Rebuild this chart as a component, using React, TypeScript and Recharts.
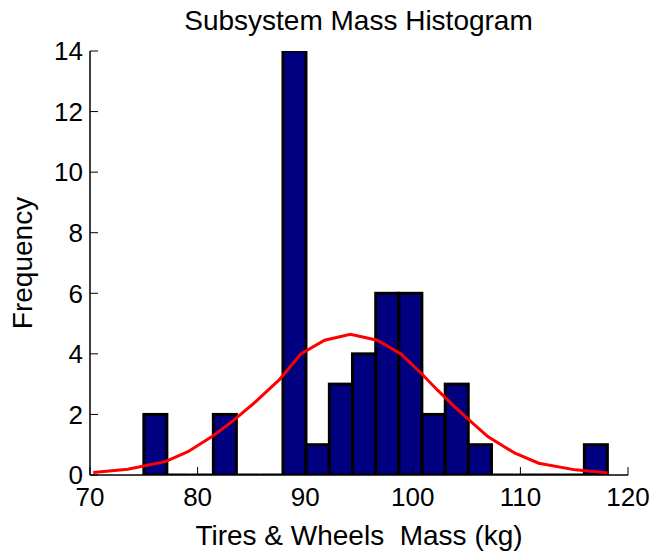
import { ComposedChart, Bar, Line, XAxis, YAxis } from 'recharts'

// histogram bins (centres of 20 equal bins from 75 to 118.1 kg)
const binCenters = [
  76.08, 78.23, 80.39, 82.54, 84.7, 86.85, 89.01, 91.16, 93.32, 95.47,
  97.63, 99.78, 101.94, 104.09, 106.25, 108.4, 110.56, 112.71, 114.87, 117.02,
]
const binCounts = [2, 0, 0, 2, 0, 0, 14, 1, 3, 4, 6, 6, 2, 3, 1, 0, 0, 0, 0, 1]

// fitted normal curve
const fitMass = [
  70.3, 73.5, 77.0, 79.1, 81.3, 83.2, 85.4, 87.6, 89.6, 91.8, 94.2,
  96.7, 98.9, 100.8, 102.3, 103.9, 105.4, 107.0, 109.5, 111.7, 115.1, 118.1,
]
const fitFreq = [
  0.08, 0.19, 0.44, 0.77, 1.26, 1.76, 2.42, 3.15, 4.0, 4.45, 4.65,
  4.45, 4.0, 3.35, 2.8, 2.25, 1.76, 1.26, 0.72, 0.39, 0.17, 0.07,
]

const xTicks = [70, 80, 90, 100, 110, 120]
const yTicks = [0, 2, 4, 6, 8, 10, 12, 14]

const bins = binCenters.map((mass, i) => ({ mass, count: binCounts[i] }))
const fit = fitMass.map((mass, i) => ({ mass, freq: fitFreq[i] }))

const font = '"Liberation Sans", Arial, sans-serif'
const tickStyle = { fontSize: 26, fill: '#000', fontFamily: font }

// matlab draws empty bins as a flat outline on the baseline
function HistBar(props: any) {
  const { x, y, width, height } = props
  if (!height) {
    return <line x1={x} x2={x + width} y1={y} y2={y} stroke="#000" strokeWidth={3} />
  }
  return <rect x={x} y={y} width={width} height={height} fill="#000080" stroke="#000" strokeWidth={3} />
}

export default function App() {
  return (
    <div style={{ position: 'absolute', left: 0, top: 0, width: 657, height: 553, background: '#fff' }}>
      <div
        style={{
          position: 'absolute',
          left: 90,
          width: 537,
          top: 7,
          textAlign: 'center',
          fontFamily: font,
          fontSize: 28,
          lineHeight: '28px',
          color: '#000',
        }}
      >
        Subsystem Mass Histogram
      </div>
      <ComposedChart
        width={657}
        height={553}
        data={bins}
        margin={{ top: 51, right: 29, bottom: 0, left: 0 }}
        barCategoryGap={0}
        barGap={0}
      >
        <XAxis
          dataKey="mass"
          type="number"
          domain={[70, 120]}
          ticks={xTicks}
          allowDataOverflow
          height={78}
          stroke="#000"
          tick={tickStyle}
          tickSize={-8}
          tickMargin={21}
          axisLine={{ stroke: '#000', strokeWidth: 1.5 }}
          label={{
            value: 'Tires & Wheels\u00a0 Mass (kg)',
            position: 'insideBottom',
            offset: 8,
            style: { fontSize: 28, fill: '#000', fontFamily: font },
          }}
        />
        <XAxis
          xAxisId="top"
          orientation="top"
          dataKey="mass"
          type="number"
          domain={[70, 120]}
          ticks={xTicks}
          allowDataOverflow
          height={0}
          stroke="#000"
          axisLine={{ stroke: '#000', strokeWidth: 1.5 }}
          tickSize={-8}
          tickFormatter={() => ''}
        />
        <YAxis
          type="number"
          domain={[0, 14]}
          ticks={yTicks}
          allowDataOverflow
          width={90}
          stroke="#000"
          axisLine={{ stroke: '#000', strokeWidth: 1.5 }}
          tick={tickStyle}
          tickSize={-8}
          tickMargin={15}
          label={{
            value: 'Frequency',
            angle: -90,
            position: 'insideLeft',
            offset: 22,
            style: { fontSize: 28, fill: '#000', fontFamily: font, textAnchor: 'middle' },
          }}
        />
        <YAxis
          yAxisId="right"
          orientation="right"
          type="number"
          domain={[0, 14]}
          ticks={yTicks}
          allowDataOverflow
          width={0}
          stroke="#000"
          axisLine={{ stroke: '#000', strokeWidth: 1.5 }}
          tickSize={-8}
          tickFormatter={() => ''}
        />
        <Bar dataKey="count" shape={HistBar} isAnimationActive={false} />
        <Line
          data={fit}
          xAxisId="top"
          yAxisId="right"
          dataKey="freq"
          type="linear"
          stroke="#ff0000"
          strokeWidth={3}
          dot={false}
          isAnimationActive={false}
        />
      </ComposedChart>
    </div>
  )
}
